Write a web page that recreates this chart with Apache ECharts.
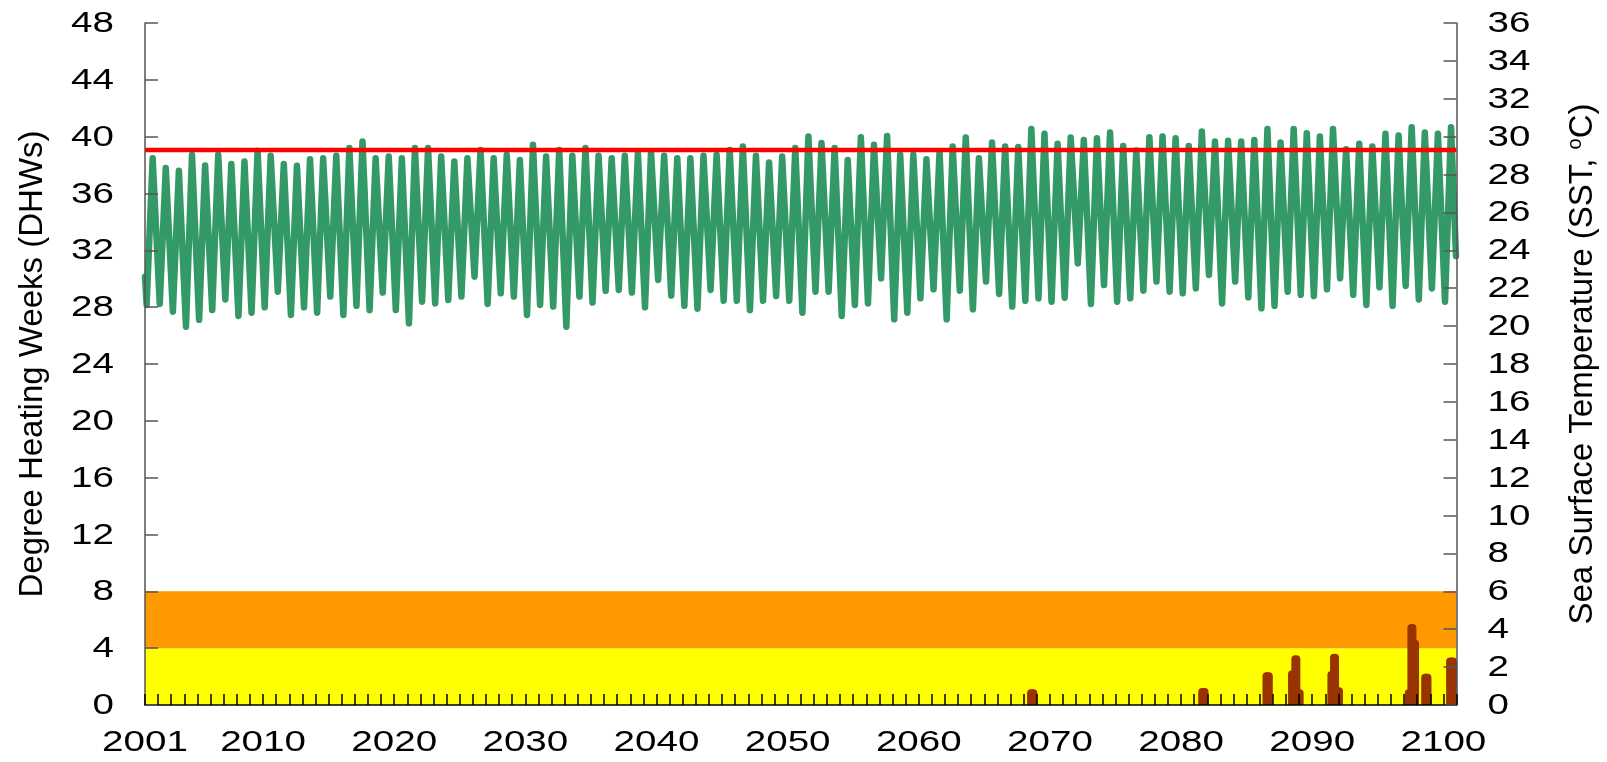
<!DOCTYPE html>
<html>
<head>
<meta charset="utf-8">
<script src="https://cdn.jsdelivr.net/npm/echarts@6/dist/echarts.min.js"></script>
<style>
  html, body { margin: 0; padding: 0; background: #fff; }
  #chart { width: 1607px; height: 762px; }
</style>
</head>
<body>
<div id="chart"></div>
<script>
// SST peaks (Aug) and troughs (Feb) per year, 2001..2100
const firstYear = 2001
const peakSST = [
  28.86, 28.34, 28.2, 29.04, 28.48, 29.04, 28.56, 28.69, 29.25, 28.99,
  28.56, 28.46, 28.81, 28.86, 28.99, 29.4, 29.75, 28.86, 28.95, 28.86,
  29.4, 29.4, 28.95, 28.69, 28.86, 29.3, 28.86, 29.04, 28.77, 29.57,
  28.95, 29.3, 28.99, 29.4, 28.99, 28.86, 28.99, 29.12, 29.2, 28.99,
  28.86, 28.86, 28.99, 29.04, 29.3, 29.48, 28.99, 28.64, 28.95, 29.4,
  30.01, 29.66, 29.4, 28.77, 29.97, 29.57, 30.04, 29.04, 29.04, 28.81,
  29.2, 29.48, 29.96, 28.86, 29.69, 29.48, 29.45, 30.4, 30.15, 29.62,
  29.96, 29.83, 29.92, 30.22, 29.51, 29.27, 29.97, 30.01, 29.92, 29.51,
  30.27, 29.74, 29.78, 29.74, 29.83, 30.4, 29.69, 30.41, 30.18, 30.01,
  30.41, 29.34, 29.62, 29.48, 30.15, 30.06, 30.5, 30.22, 30.15, 30.5,
]
const troughSST = [
  21.12, 21.17, 20.76, 19.97, 20.33, 20.85, 21.41, 20.54, 20.71, 20.99,
  21.82, 20.59, 20.99, 20.71, 21.56, 20.59, 21.07, 20.85, 21.77, 20.85,
  20.15, 21.29, 21.2, 21.38, 21.56, 22.61, 21.17, 21.73, 21.56, 20.59,
  21.12, 21.03, 19.97, 21.56, 21.24, 21.86, 21.91, 21.77, 20.99, 22.44,
  21.61, 21.07, 20.92, 21.91, 21.34, 21.34, 20.85, 21.34, 21.59, 21.34,
  20.71, 21.82, 21.82, 20.54, 21.12, 21.2, 22.52, 20.36, 20.71, 21.47,
  21.94, 20.36, 21.87, 20.89, 22.35, 21.7, 21.03, 21.34, 21.47, 21.29,
  21.5, 23.31, 21.17, 22.17, 21.29, 21.47, 21.87, 22.35, 21.82, 21.73,
  21.99, 22.7, 21.2, 22.35, 21.52, 20.94, 21.07, 21.82, 21.65, 21.59,
  21.94, 22.52, 21.65, 21.12, 22.05, 21.07, 22.12, 21.41, 21.99, 21.29,
]
const startSST = 22.6
const endSST = 23.7
const bleachingThreshold = 29.3

// DHW events (decimal year, DHW)
const dhwTime = [2068.6, 2068.7, 2081.65, 2081.75, 2086.55, 2086.65,
  2088.5, 2088.75, 2089.0, 2091.5, 2091.7, 2092.0,
  2097.4, 2097.6, 2097.8, 2098.65, 2098.75, 2100.55, 2100.7]
const dhwValue = [1.1, 1.1, 1.2, 1.2, 2.3, 2.3,
  2.45, 3.5, 1.1, 2.4, 3.6, 1.25,
  1.1, 5.7, 4.6, 2.2, 2.2, 3.35, 3.35]

// tick labels
const xLabels = [2001, 2010, 2020, 2030, 2040, 2050, 2060, 2070, 2080, 2090, 2100]
const dhwLabels = [0, 4, 8, 12, 16, 20, 24, 28, 32, 36, 40, 44, 48]
const sstLabels = [0, 2, 4, 6, 8, 10, 12, 14, 16, 18, 20, 22, 24, 26, 28, 30, 32, 34, 36]

const yearTicks = []
for (let y = 2001; y <= 2101; y++) yearTicks.push(y)

const sstData = [[firstYear, startSST]]
peakSST.forEach((p, i) => {
  const yr = firstYear + i
  sstData.push([yr + 1.5 / 12, troughSST[i]])
  sstData.push([yr + 7 / 12, p])
})
sstData.push([2100.96, endSST])

const dhwData = dhwTime.map((t, i) => [t, dhwValue[i]])

const FONT = 'Liberation Sans, Arial, sans-serif'
// the original tick labels are a wide, stretched Arial
const LABEL_SIZE = 29
const LABEL_STRETCH = 1.33

const chart = echarts.init(document.getElementById('chart'))
chart.setOption({
  animation: false,
  backgroundColor: '#fff',
  grid: { left: 145, right: 146, top: 23, bottom: 57 },
  xAxis: {
    type: 'value',
    min: 2001,
    max: 2101,
    splitLine: { show: false },
    axisLine: { lineStyle: { color: '#000', width: 1.5 } },
    axisTick: { inside: true, length: 11, customValues: yearTicks, lineStyle: { color: '#000', width: 1.5 } },
    axisLabel: { show: false },
    z: 5,
  },
  yAxis: [
    {
      type: 'value',
      min: 0,
      max: 48,
      interval: 4,
      name: 'Degree Heating Weeks (DHWs)',
      nameLocation: 'middle',
      nameRotate: 90,
      nameGap: 96,
      nameTextStyle: { color: '#000', fontFamily: FONT, fontSize: 33 },
      splitLine: { show: false },
      axisLine: { show: true, lineStyle: { color: '#555', width: 1.5 } },
      axisTick: { show: true, inside: true, length: 13, lineStyle: { color: '#555', width: 1.5 } },
      axisLabel: { show: false },
      z: 5,
    },
    {
      type: 'value',
      min: 0,
      max: 36,
      interval: 2,
      position: 'right',
      name: 'Sea Surface Temperature (SST, {sup|o}C)',
      nameLocation: 'middle',
      nameRotate: 90,
      nameGap: 109,
      nameTextStyle: {
        color: '#000', fontFamily: FONT, fontSize: 33,
        rich: { sup: { fontSize: 20, verticalAlign: 'top', padding: [0, 0, 14, 0], fontFamily: FONT, color: '#000' } },
      },
      splitLine: { show: false },
      axisLine: { show: true, lineStyle: { color: '#555', width: 1.5 } },
      axisTick: { show: true, inside: true, length: 13, lineStyle: { color: '#555', width: 1.5 } },
      axisLabel: { show: false },
      z: 5,
    },
  ],
  series: [
    {
      name: 'DHW',
      type: 'bar',
      yAxisIndex: 0,
      data: dhwData,
      barWidth: 9,
      itemStyle: { color: '#993300', borderRadius: [4, 4, 0, 0] },
      markArea: {
        silent: true,
        itemStyle: { opacity: 1 },
        data: [
          [{ yAxis: 0, itemStyle: { color: '#ffff00' } }, { yAxis: 4 }],
          [{ yAxis: 4, itemStyle: { color: '#ff9900' } }, { yAxis: 8 }],
        ],
      },
      z: 2,
    },
    {
      name: 'SST',
      type: 'line',
      yAxisIndex: 1,
      data: sstData,
      showSymbol: false,
      lineStyle: { color: '#339966', width: 6.5, join: 'round', cap: 'round' },
      z: 3,
    },
    {
      name: 'Threshold',
      type: 'line',
      yAxisIndex: 1,
      data: [[2001, bleachingThreshold], [2101, bleachingThreshold]],
      showSymbol: false,
      lineStyle: { color: '#ff0000', width: 4.5 },
      z: 4,
    },
  ],
})

// tick labels as stretched text, placed through the axes' own scales.
// every label is centre-aligned so the stretch cannot move it; the centre
// is worked out from the measured (stretched) width.
const measureCtx = document.createElement('canvas').getContext('2d')
measureCtx.font = LABEL_SIZE + 'px ' + FONT
function stretchedWidth(text) {
  return measureCtx.measureText(String(text)).width * LABEL_STRETCH
}

function tickText(text, cx, cy) {
  return {
    type: 'text',
    x: cx, y: cy,
    scaleX: LABEL_STRETCH,
    silent: true,
    style: {
      text: String(text),
      fill: '#000',
      font: LABEL_SIZE + 'px ' + FONT,
      align: 'center', verticalAlign: 'middle',
      textAlign: 'center', textVerticalAlign: 'middle',
    },
  }
}

const axisY0 = chart.convertToPixel({ yAxisIndex: 0 }, 0)
const axisXL = chart.convertToPixel({ xAxisIndex: 0 }, 2001)
const axisXR = chart.convertToPixel({ xAxisIndex: 0 }, 2101)
const labels = []
xLabels.forEach((v) => {
  labels.push(tickText(v, chart.convertToPixel({ xAxisIndex: 0 }, v), axisY0 + 38))
})
dhwLabels.forEach((v) => {
  const w = stretchedWidth(v)
  labels.push(tickText(v, axisXL - 31 - w / 2, chart.convertToPixel({ yAxisIndex: 0 }, v) + 1))
})
sstLabels.forEach((v) => {
  const w = stretchedWidth(v)
  labels.push(tickText(v, axisXR + 31 + w / 2, chart.convertToPixel({ yAxisIndex: 1 }, v) + 1))
})
chart.setOption({ graphic: { elements: labels } })
</script>
</body>
</html>
